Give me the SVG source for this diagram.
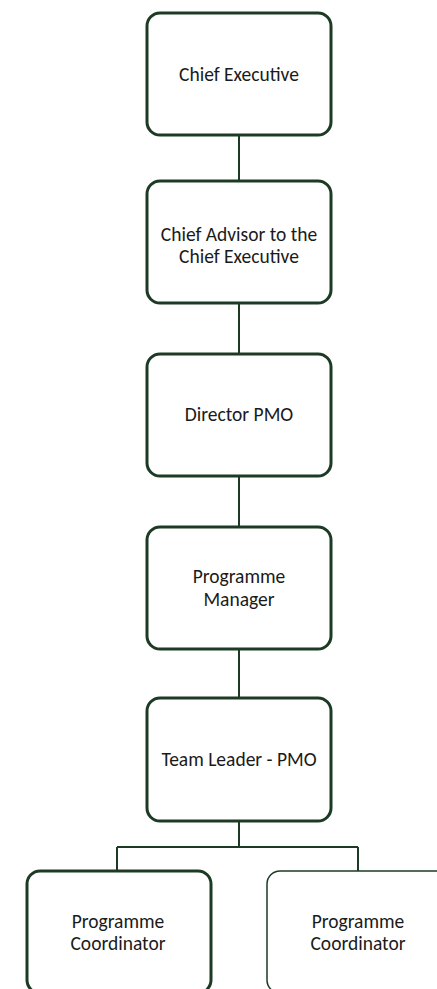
<svg xmlns="http://www.w3.org/2000/svg" width="437" height="989" viewBox="0 0 437 989">
<style>
.box{fill:#fff;stroke:#1d3a25;stroke-width:3}
.thin{fill:#fff;stroke:#1d3a25;stroke-width:1.5}
.conn{fill:none;stroke:#1d3a25;stroke-width:2}
text{font-family:Calibri,Carlito,Lato,"Open Sans",sans-serif;font-size:19.5px;font-weight:400;fill:#1a1a1a;text-anchor:middle}
</style>
<rect width="437" height="989" fill="#fff"/>
<g id="connectors">
<path class="conn" d="M239 135V181M239 303V354M239 476V527M239 649V698M239 821V847M117 847H358M117 847V871M358 847V871"/>
</g>
<g id="chief-executive">
<rect class="box" x="147" y="13" width="184" height="122" rx="13"/>
<text x="239" y="81">Chief Executive</text>
</g>
<g id="chief-advisor">
<rect class="box" x="147" y="181" width="184" height="122" rx="13"/>
<text x="239" y="240.5">Chief Advisor to the</text>
<text x="239" y="263">Chief Executive</text>
</g>
<g id="director-pmo">
<rect class="box" x="147" y="354" width="184" height="122" rx="13"/>
<text x="239" y="421">Director PMO</text>
</g>
<g id="programme-manager">
<rect class="box" x="147" y="527" width="184" height="122" rx="13"/>
<text x="239" y="583">Programme</text>
<text x="239" y="605.5">Manager</text>
</g>
<g id="team-leader">
<rect class="box" x="147" y="698" width="184" height="123" rx="13"/>
<text x="239" y="766">Team Leader - PMO</text>
</g>
<g id="coordinator-1">
<rect class="box" x="27" y="871" width="184" height="122" rx="13"/>
<text x="118" y="927.5">Programme</text>
<text x="118" y="950">Coordinator</text>
</g>
<g id="coordinator-2">
<rect class="thin" x="267" y="871" width="184" height="122" rx="13"/>
<text x="358" y="927.5">Programme</text>
<text x="358" y="950">Coordinator</text>
</g>
</svg>
